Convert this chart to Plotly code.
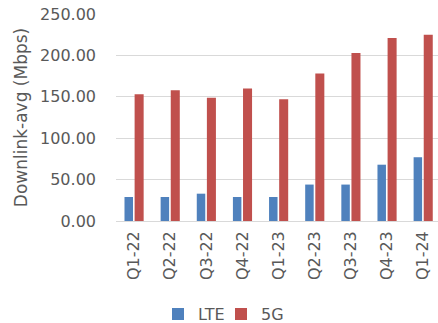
import plotly.graph_objects as go

quarters = ["Q1-22", "Q2-22", "Q3-22", "Q4-22", "Q1-23", "Q2-23", "Q3-23", "Q4-23", "Q1-24"]
lte = [29, 29, 33, 29, 29, 44, 44, 68, 77]
g5 = [153, 158, 149, 160, 147, 178, 203, 221, 225]
y_ticks = [0, 50, 100, 150, 200, 250]

FONT = "DejaVu Sans"
GREY = "#595959"

fig = go.Figure()
fig.add_trace(go.Bar(x=quarters, y=lte, name="LTE", marker_color="#4F81BD",
                     width=0.235, offset=-0.265, marker_line_width=0, legend="legend"))
fig.add_trace(go.Bar(x=quarters, y=g5, name="5G", marker_color="#C0504D",
                     width=0.25, offset=0.015, marker_line_width=0, legend="legend2"))

leg_common = dict(orientation="h", yanchor="middle", y=-0.45, xanchor="left",
                  font=dict(size=16, color=GREY), itemwidth=30,
                  bgcolor="rgba(0,0,0,0)", borderwidth=0)

fig.update_layout(
    width=438, height=323,
    margin=dict(l=116, r=0, t=14, b=102, autoexpand=False),
    barmode="overlay",
    plot_bgcolor="white", paper_bgcolor="white",
    font=dict(family=FONT, size=16, color=GREY),
    showlegend=True,
    legend=dict(x=(158 - 116) / 322, **leg_common),
    legend2=dict(x=(221 - 116) / 322, **leg_common),
    xaxis=dict(type="category", range=[-0.5, 8.41], tickangle=-90, automargin=False,
               showgrid=False, showline=False, ticks="", ticklabelstandoff=6,
               tickfont=dict(size=16, color=GREY)),
    yaxis=dict(range=[0, 250], tickvals=y_ticks, tickformat=".2f", automargin=False,
               showgrid=True, gridcolor="#D9D9D9", gridwidth=1.2,
               zeroline=True, zerolinecolor="#D9D9D9", zerolinewidth=1.2,
               ticks="", ticklabelstandoff=19,
               tickfont=dict(size=16, color=GREY),
               title=dict(text="Downlink-avg (Mbps)", font=dict(size=17, color=GREY), standoff=8)),
)

fig.write_html("out.html")
